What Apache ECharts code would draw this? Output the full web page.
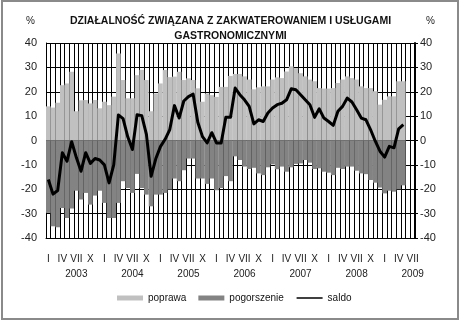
<!DOCTYPE html>
<html>
<head>
<meta charset="utf-8">
<script src="https://cdn.jsdelivr.net/npm/echarts@6/dist/echarts.min.js"></script>
<style>
  html, body { margin: 0; padding: 0; background: #fff; }
  #frame { position: absolute; left: 1px; top: 0px; width: 454px; height: 316px; border: 2px solid #8a8a8a; }
  #chart { position: absolute; left: 0; top: 0; width: 461px; height: 323px; }
</style>
</head>
<body>
<div id="chart"></div>
<div id="frame"></div>
<script>
// miesiące od I 2003 do VII 2009
const years = [2003, 2004, 2005, 2006, 2007, 2008, 2009]
const romanMonths = ['I', 'II', 'III', 'IV', 'V', 'VI', 'VII', 'VIII', 'IX', 'X', 'XI', 'XII']
const shownMonths = ['I', 'IV', 'VII', 'X']
const lastMonthOf2009 = 7

// poprawa (%), I 2003 - V 2009
const poprawa = [
  14, 13.5, 15.5, 22.7, 23.4, 28.2, 12, 16.5, 16.6, 15.2, 16.6, 13.2,
  15.9, 14.5, 18, 35.7, 24.8, 17.3, 17.3, 26.8, 29, 24.8, 12, 19.3,
  23.4, 28.9, 26, 26.2, 28.2, 24.8, 25.5, 24.8, 21.4, 15.9, 19.3, 18.6,
  17.9, 22, 22, 26.5, 27.3, 27.3, 26.3, 25, 21, 21.8, 22.2, 22.2,
  25, 25.9, 25.6, 28.3, 30.4, 29.7, 27.6, 26.3, 25, 24.3, 21.5, 21.3,
  21.3, 21.5, 23.6, 25, 26.3, 25.6, 25, 22.2, 21.5, 21.5, 20.2, 14.7,
  16.7, 18.1, 18.1, 24.3, 24.3
]

// pogorszenie (%), wartości ujemne
const pogorszenie = [
  -29.7, -35.2, -35.6, -27.7, -31.8, -27.9, -20.6, -24.2, -21.5, -26.3, -22.6, -20.6,
  -25.6, -31.8, -31.8, -25.6, -16.7, -19.5, -21.5, -13.7, -19.5, -22.2, -27, -22.2,
  -22.2, -21.5, -20.1, -15.6, -16.7, -12.2, -7.4, -7.4, -15.6, -15.6, -17.8, -15.6,
  -20.4, -19.5, -14.6, -16.7, -6.5, -8, -10.7, -11.7, -11.2, -13.5, -14.2, -11,
  -9.8, -11.8, -10.7, -12.8, -11, -9.6, -9.4, -8, -9.1, -11.7, -11.4, -12.8,
  -13.2, -14.2, -11.2, -11.7, -10.7, -10.7, -12.4, -13.5, -13.8, -16.2, -17.3, -19.3,
  -21.7, -20.6, -21, -20, -18.4
]

// saldo (%)
const saldo = [
  -16, -22, -20.5, -5, -8.5, -0.5, -7, -12.6, -5, -9.4, -7.4, -8,
  -10, -17.4, -10, 10.5, 9, 1.5, -3.7, 10.6, 10.2, 2.5, -14.7, -7.5,
  -2.5, 0.5, 4.5, 14.3, 9.2, 16.2, 18, 19, 7.5, 1.6, -1, 3.2,
  -1, -1, 9.5, 9.5, 21.5, 18.8, 16.7, 14, 6.8, 8.5, 7.8, 11.3,
  13.3, 14.7, 15.3, 16.7, 21.2, 20.8, 18.8, 16.7, 14.7, 9.5, 13, 9.2,
  7.8, 6.2, 12, 14, 17.4, 15.8, 12.6, 9.2, 8.5, 4.4, -0.3, -4.4,
  -6.8, -2.4, -3, 4.8, 6.5
]

const fontMain = "'Liberation Sans', Arial, sans-serif"

// kategorie osi X
const categories = []
years.forEach(y => {
  romanMonths.forEach((m, i) => {
    if (y === 2009 && i >= lastMonthOf2009) return
    categories.push(m + ' ' + y)
  })
})

const formatMonth = (value) => {
  const [m, y] = value.split(' ')
  if (!shownMonths.includes(m)) return ''
  if (m === 'VII') return m + '\n' + y
  return m
}

const chart = echarts.init(document.getElementById('chart'))

const option = {
  animation: false,
  backgroundColor: '#ffffff',
  textStyle: { fontFamily: fontMain },
  title: {
    text: 'DZIAŁALNOŚĆ ZWIĄZANA Z ZAKWATEROWANIEM I USŁUGAMI\nGASTRONOMICZNYMI',
    left: 'center',
    top: 9,
    textStyle: {
      fontFamily: fontMain,
      fontSize: 10.5,
      fontWeight: 'bold',
      color: '#111',
      lineHeight: 15
    }
  },
  graphic: [
    { type: 'text', left: 26, top: 16, style: { text: '%', fontSize: 10, fontFamily: fontMain, fill: '#222' } },
    { type: 'text', left: 426, top: 16, style: { text: '%', fontSize: 10, fontFamily: fontMain, fill: '#222' } }
  ],
  legend: {
    left: 117,
    top: 293,
    itemGap: 12,
    itemWidth: 26,
    itemHeight: 5,
    padding: 0,
    textStyle: { fontFamily: fontMain, fontSize: 10, color: '#111' },
    data: [
      { name: 'poprawa', icon: 'rect' },
      { name: 'pogorszenie', icon: 'rect' },
      { name: 'saldo', itemStyle: { opacity: 0 }, lineStyle: { width: 1.5, color: '#000' } }
    ]
  },
  grid: {
    left: 46,
    top: 43,
    width: 369,
    height: 195
  },
  xAxis: {
    type: 'category',
    data: categories,
    boundaryGap: true,
    axisLine: { onZero: false, lineStyle: { color: '#000', width: 1 } },
    axisTick: { show: false },
    splitLine: { show: true, interval: 0, lineStyle: { color: '#000', width: 1 } },
    axisLabel: {
      interval: 0,
      margin: 14,
      fontSize: 10,
      lineHeight: 15,
      color: '#222',
      fontFamily: fontMain,
      formatter: formatMonth
    }
  },
  yAxis: [
    {
      type: 'value',
      min: -40,
      max: 40,
      interval: 10,
      position: 'left',
      axisLine: { show: true, lineStyle: { color: '#000' } },
      axisTick: { show: false },
      splitLine: { lineStyle: { color: '#000', width: 1 } },
      axisLabel: { fontSize: 11, color: '#222', margin: 9, fontFamily: fontMain }
    },
    {
      type: 'value',
      min: -40,
      max: 40,
      interval: 10,
      position: 'right',
      axisLine: { show: true, lineStyle: { color: '#000', width: 2 } },
      axisTick: { show: true, length: 3, lineStyle: { color: '#000' } },
      splitLine: { show: false },
      axisLabel: { fontSize: 11, color: '#222', margin: 5, fontFamily: fontMain }
    }
  ],
  series: [
    {
      name: 'poprawa',
      type: 'bar',
      data: poprawa,
      barCategoryGap: '0%',
      barGap: '-100%',
      itemStyle: { color: '#c0c0c0' }
    },
    {
      name: 'pogorszenie',
      type: 'bar',
      data: pogorszenie,
      barCategoryGap: '0%',
      barGap: '-100%',
      itemStyle: { color: '#838383' }
    },
    {
      name: 'saldo',
      type: 'line',
      data: saldo,
      symbol: 'none',
      lineStyle: { color: '#000', width: 3, join: 'round' },
      itemStyle: { color: '#000' },
      z: 5
    }
  ]
}

chart.setOption(option)
</script>
</body>
</html>
